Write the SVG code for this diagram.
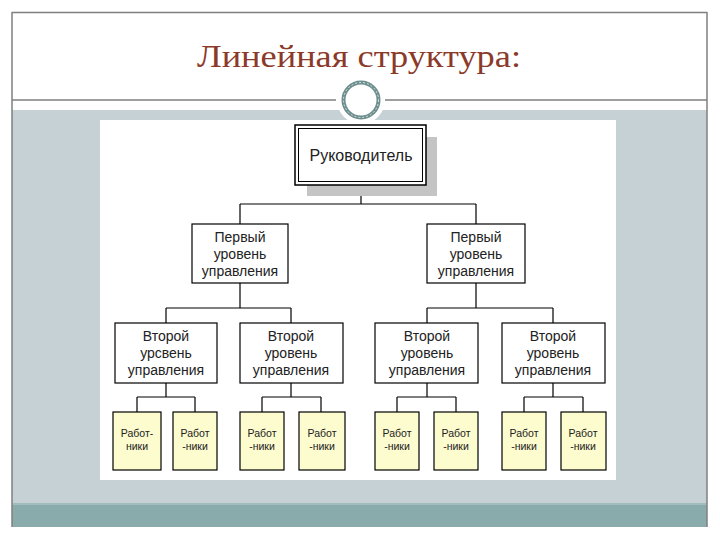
<svg xmlns="http://www.w3.org/2000/svg" width="720" height="540" viewBox="0 0 720 540">
<style>
.box{fill:#ffffff;stroke:#000;stroke-width:1.2}
.wbox{fill:#fdfccf;stroke:#000;stroke-width:1.2}
.t{font-family:"Liberation Sans",Arial,sans-serif;font-size:14px;fill:#222;text-anchor:middle}
.tw{font-family:"Liberation Sans",Arial,sans-serif;font-size:10.5px;fill:#222;text-anchor:middle}
.conn{fill:none;stroke:#000;stroke-width:1.2}
.frame{stroke:#7f7f7f;stroke-width:1.5;fill:none}
</style>
<rect x="0" y="0" width="720" height="540" fill="#ffffff"/>
<g id="background">
<rect x="12" y="110" width="695" height="393" fill="#c6d1d6"/>
<rect x="12" y="503" width="695" height="24" fill="#8aabab"/>
<line x1="12" y1="504" x2="707" y2="504" stroke="#a9c2c2" stroke-width="1.5"/>
<line class="frame" x1="12" y1="12.5" x2="707" y2="12.5"/>
<line class="frame" x1="12" y1="12" x2="12" y2="527"/>
<line class="frame" x1="707" y1="12" x2="707" y2="527"/>
<line class="frame" x1="12" y1="100" x2="336" y2="100"/>
<line class="frame" x1="385" y1="100" x2="707" y2="100"/>
<circle cx="361" cy="100" r="24" fill="#ffffff"/>
<circle cx="361" cy="100" r="17.5" fill="#ffffff" stroke="#6e8e8e" stroke-width="4"/>
<circle cx="361" cy="100" r="17.5" fill="none" stroke="#d8e4e4" stroke-width="1" stroke-dasharray="2 2"/>
<rect x="100" y="120" width="516" height="360" fill="#ffffff"/>
</g>
<text id="title" x="359" y="67" font-family="'Liberation Serif','Times New Roman',serif" font-size="31" fill="#8b3a2a" text-anchor="middle" textLength="324" lengthAdjust="spacingAndGlyphs">Линейная структура:</text>
<g id="connectors">
<path class="conn" d="M361 185 V204 M240 204 H476 M240 204 V224 M476 204 V224"/>
<path class="conn" d="M240 283 V308 M166 308 H291 M166 308 V323 M291 308 V323"/>
<path class="conn" d="M476 283 V308 M427 308 H553 M427 308 V323 M553 308 V323"/>
<path class="conn" d="M166 383 V397 M137 397 H195 M137 397 V412 M195 397 V412"/>
<path class="conn" d="M291 383 V397 M262 397 H321 M262 397 V412 M321 397 V412"/>
<path class="conn" d="M427 383 V397 M397 397 H456 M397 397 V412 M456 397 V412"/>
<path class="conn" d="M553 383 V397 M524 397 H583 M524 397 V412 M583 397 V412"/>
</g>
<g id="head">
<rect x="307" y="137" width="130" height="59" fill="#c4c4c4"/>
<rect x="295" y="125" width="131" height="60" fill="#ffffff" stroke="#000" stroke-width="1.5"/>
<rect x="298.5" y="128.5" width="124" height="53" fill="none" stroke="#000" stroke-width="1"/>
<text x="361" y="161" font-family="'Liberation Sans',Arial,sans-serif" font-size="16" fill="#222" text-anchor="middle">Руководитель</text>
</g>
<g id="l1-left">
<rect class="box" x="192" y="224" width="96" height="59"/>
<text class="t" x="240" y="242">Первый</text>
<text class="t" x="240" y="259">уровень</text>
<text class="t" x="240" y="276">управления</text>
</g>
<g id="l1-right">
<rect class="box" x="427" y="224" width="98" height="59"/>
<text class="t" x="476" y="242">Первый</text>
<text class="t" x="476" y="259">уровень</text>
<text class="t" x="476" y="276">управления</text>
</g>
<g id="l2-1">
<rect class="box" x="115" y="323" width="102" height="60"/>
<text class="t" x="166" y="341">Второй</text>
<text class="t" x="166" y="358">урсвень</text>
<text class="t" x="166" y="375">управления</text>
</g>
<g id="l2-2">
<rect class="box" x="240" y="323" width="103" height="60"/>
<text class="t" x="291" y="341">Второй</text>
<text class="t" x="291" y="358">уровень</text>
<text class="t" x="291" y="375">управления</text>
</g>
<g id="l2-3">
<rect class="box" x="375" y="323" width="103" height="60"/>
<text class="t" x="427" y="341">Второй</text>
<text class="t" x="427" y="358">уровень</text>
<text class="t" x="427" y="375">управления</text>
</g>
<g id="l2-4">
<rect class="box" x="502" y="323" width="103" height="60"/>
<text class="t" x="553" y="341">Второй</text>
<text class="t" x="553" y="358">уровень</text>
<text class="t" x="553" y="375">управления</text>
</g>
<g id="w1"><rect class="wbox" x="113" y="412" width="48" height="58"/><text class="tw" x="137" y="437">Работ-</text><text class="tw" x="137" y="450">ники</text></g>
<g id="w2"><rect class="wbox" x="173" y="412" width="44" height="58"/><text class="tw" x="195" y="437">Работ</text><text class="tw" x="195" y="450">-ники</text></g>
<g id="w3"><rect class="wbox" x="240" y="412" width="44" height="58"/><text class="tw" x="262" y="437">Работ</text><text class="tw" x="262" y="450">-ники</text></g>
<g id="w4"><rect class="wbox" x="299" y="412" width="46" height="58"/><text class="tw" x="322" y="437">Работ</text><text class="tw" x="322" y="450">-ники</text></g>
<g id="w5"><rect class="wbox" x="375" y="412" width="44" height="58"/><text class="tw" x="397" y="437">Работ</text><text class="tw" x="397" y="450">-ники</text></g>
<g id="w6"><rect class="wbox" x="434" y="412" width="44" height="58"/><text class="tw" x="456" y="437">Работ</text><text class="tw" x="456" y="450">-ники</text></g>
<g id="w7"><rect class="wbox" x="502" y="412" width="44" height="58"/><text class="tw" x="524" y="437">Работ</text><text class="tw" x="524" y="450">-ники</text></g>
<g id="w8"><rect class="wbox" x="561" y="412" width="45" height="58"/><text class="tw" x="583" y="437">Работ</text><text class="tw" x="583" y="450">-ники</text></g>
</svg>
